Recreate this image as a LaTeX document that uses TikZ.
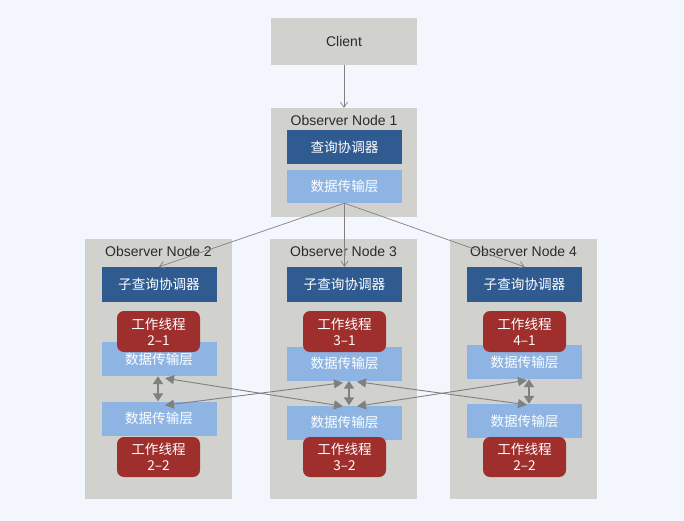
\documentclass[tikz,border=0pt]{standalone}
\usepackage{fontspec}
\setmainfont{Liberation Sans}
\newfontfamily\cjk{Noto Sans CJK SC}
\usetikzlibrary{arrows.meta,calc}
\definecolor{bgc}{HTML}{F3F7FD}
\definecolor{grayc}{HTML}{D1D1CD}
\definecolor{darkb}{HTML}{2F5B91}
\definecolor{lightb}{HTML}{8DB4E3}
\definecolor{redc}{HTML}{9E2F2D}
\definecolor{arrc}{HTML}{808080}
\definecolor{titlec}{HTML}{2A2A2A}
\tikzset{
  graybox/.style={fill=grayc, draw=none, inner sep=0pt},
  qbox/.style={fill=darkb, draw=none, text=white, font=\cjk\fontsize{13.6}{16}\selectfont, minimum width=115pt, minimum height=34pt, inner sep=0pt},
  dbox/.style={fill=lightb, draw=none, text=white, font=\cjk\fontsize{13.6}{16}\selectfont, minimum width=115pt, minimum height=34pt, inner sep=0pt},
  wbox/.style={fill=redc, draw=none, rounded corners=7pt, text=white, font=\cjk\fontsize{13.6}{16}\selectfont, minimum width=83pt, minimum height=41pt, inner sep=0pt, align=center},
  titletext/.style={text=titlec, font=\fontsize{14}{16}\selectfont, inner sep=0pt},
  thinarrow/.style={draw=arrc, line width=0.7pt, -{Straight Barb[length=5pt,width=7pt]}},
  vdouble/.style={draw=arrc, line width=1.8pt, {Triangle[length=8pt,width=10pt]}-{Triangle[length=8pt,width=10pt]}},
  cross/.style={draw=arrc, line width=0.9pt, {Triangle[length=9pt,width=9pt]}-{Triangle[length=9pt,width=9pt]}},
}
\begin{document}
\begin{tikzpicture}[x=1pt,y=-1pt]
\fill[bgc] (0,0) rectangle (684,521);
\useasboundingbox (0,0) rectangle (684,521);

% Client and node 1
\node[graybox, minimum width=146pt, minimum height=47pt, titletext] (client) at (344,41.5) {Client};
\node[graybox, minimum width=146pt, minimum height=109pt] (obs1) at (344,162.5) {};
\node[titletext] (t1) at (344,120) {Observer Node 1};
\node[qbox] (q1) at (344.5,147.5) {查询协调器};
\node[dbox, minimum height=33pt] (d1) at (344.5,186.5) {数据传输层};

% Observer nodes 2-4
\node[graybox, minimum width=147pt, minimum height=260pt] (obs2) at (158.5,369) {};
\node[graybox, minimum width=147pt, minimum height=260pt] (obs3) at (343.5,369) {};
\node[graybox, minimum width=147pt, minimum height=260pt] (obs4) at (523.5,369) {};
\node[titletext] (t2) at (158.5,251) {Observer Node 2};
\node[titletext] (t3) at (343.5,251) {Observer Node 3};
\node[titletext] (t4) at (523.5,251) {Observer Node 4};

\node[qbox, minimum height=35pt] (s2) at (159,284.5) {子查询协调器};
\node[qbox, minimum height=35pt] (s3) at (344.5,284.5) {子查询协调器};
\node[qbox, minimum height=35pt] (s4) at (524.5,284.5) {子查询协调器};

\node[dbox] (du2) at (159,359) {数据传输层};
\node[dbox] (du3) at (344.5,363.5) {数据传输层};
\node[dbox] (du4) at (524.5,362) {数据传输层};

\node[dbox] (dl2) at (159,418.5) {数据传输层};
\node[dbox] (dl3) at (344.5,422.5) {数据传输层};
\node[dbox] (dl4) at (524.5,421) {数据传输层};

\node[wbox] (w21) at (158.5,331.5) {工作线程\\2–1};
\node[wbox] (w31) at (344.5,331.5) {工作线程\\3–1};
\node[wbox] (w41) at (524.5,331.5) {工作线程\\4–1};
\node[wbox, minimum height=40pt] (w22) at (158.5,457) {工作线程\\2–2};
\node[wbox, minimum height=40pt] (w32) at (344.5,457) {工作线程\\3–2};
\node[wbox, minimum height=40pt] (w42) at (524.5,457) {工作线程\\2–2};

% top arrows
\draw[thinarrow] (client.south) -- (obs1.north);
\draw[thinarrow] (d1.south) -- (s2.north);
\draw[thinarrow] (d1.south) -- (s3.north);
\draw[thinarrow] (d1.south) -- (s4.north);

% vertical double arrows
\draw[vdouble] ([xshift=-1pt]du2.south) -- ([xshift=-1pt]dl2.north);
\draw[vdouble] ([xshift=4.5pt]du3.south) -- ([xshift=4.5pt]dl3.north);
\draw[vdouble] ([xshift=4.5pt]du4.south) -- ([xshift=4.5pt]dl4.north);

% cross arrow endpoints
\coordinate (a2u) at ([shift={(6pt,-2pt)}]du2.south);
\coordinate (a2l) at ([shift={(6pt,-4pt)}]dl2.north);
\coordinate (a3u1) at ([shift={(-1.5pt,-2pt)}]du3.south);
\coordinate (a3u2) at ([shift={(12.5pt,-1pt)}]du3.south);
\coordinate (a3l1) at ([shift={(-1.5pt,-1pt)}]dl3.north);
\coordinate (a3l2) at ([shift={(12.5pt,-1pt)}]dl3.north);
\coordinate (a4u) at ([shift={(2.5pt,-1pt)}]du4.south);
\coordinate (a4l) at ([shift={(2.5pt,-1pt)}]dl4.north);

\draw[cross] (a2u) -- (a3l1);
\draw[cross] (a2l) -- (a3u1);
\draw[cross] (a3u2) -- (a4l);
\draw[cross] (a3l2) -- (a4u);
\end{tikzpicture}
\end{document}
